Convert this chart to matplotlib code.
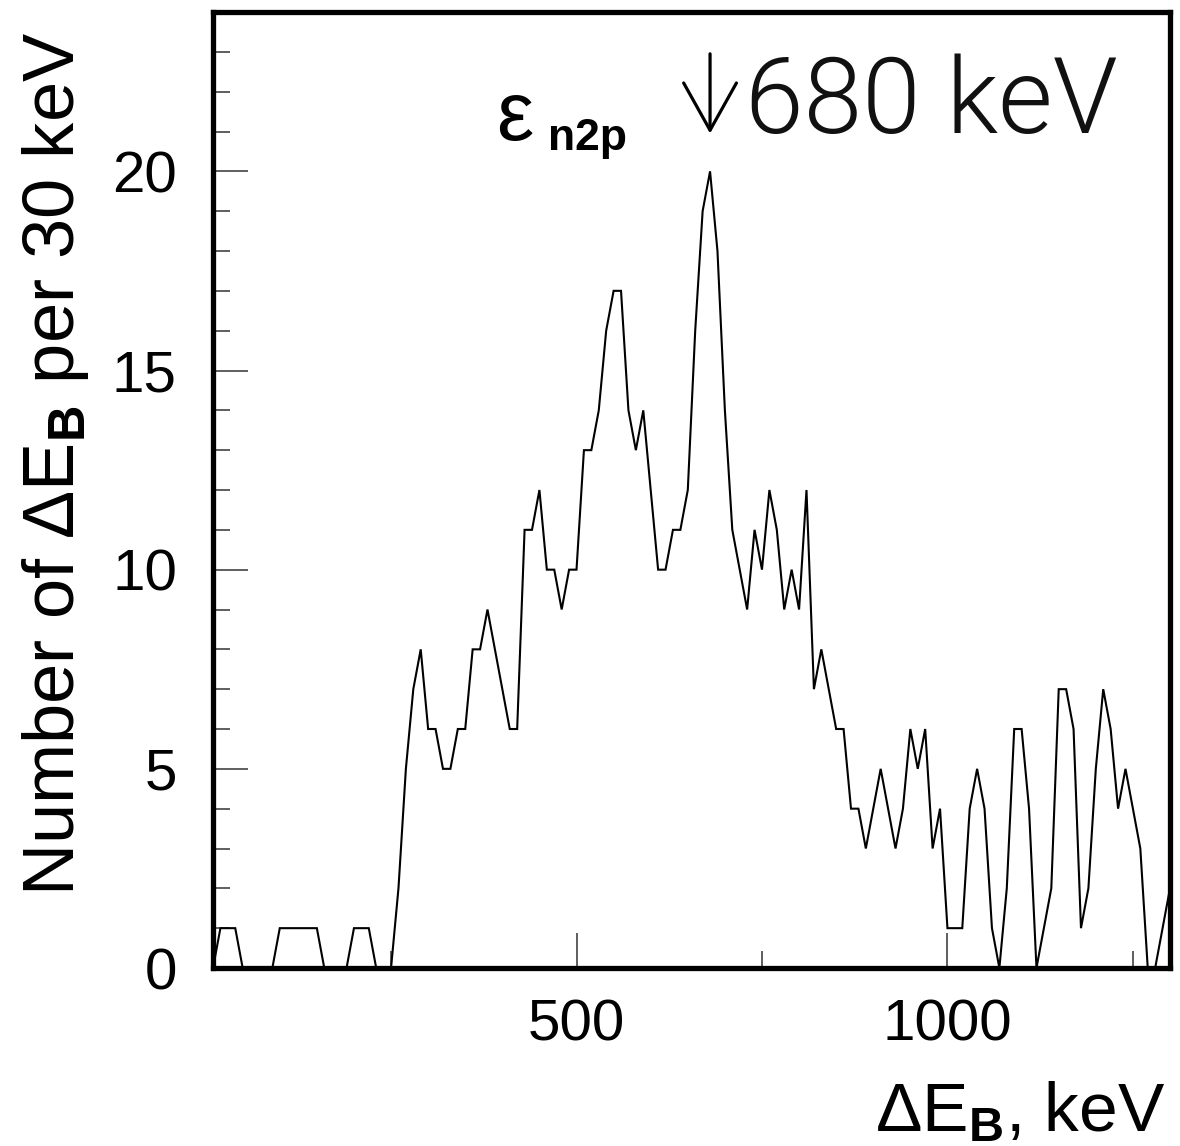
import numpy as np
import matplotlib
matplotlib.use("Agg")
import matplotlib.pyplot as plt
from matplotlib import font_manager as fm

plt.rcParams['font.family'] = ['Liberation Sans', 'DejaVu Sans']
plt.rcParams['mathtext.fontset'] = 'custom'
plt.rcParams['mathtext.rm'] = 'Liberation Sans'
plt.rcParams['mathtext.it'] = 'Liberation Sans:italic'
plt.rcParams['mathtext.bf'] = 'Liberation Sans:bold'

# Energy points (keV), 10 keV steps, sliding 30 keV window counts
energies = np.arange(10, 1301, 10)
counts = [
    0, 1, 1, 1, 0, 0, 0, 0, 0, 1,
    1, 1, 1, 1, 1, 0, 0, 0, 0, 1,
    1, 1, 0, 0, 0, 2, 5, 7, 8, 6,
    6, 5, 5, 6, 6, 8, 8, 9, 8, 7,
    6, 6, 11, 11, 12, 10, 10, 9, 10, 10,
    13, 13, 14, 16, 17, 17, 14, 13, 14, 12,
    10, 10, 11, 11, 12, 16, 19, 20, 18, 14,
    11, 10, 9, 11, 10, 12, 11, 9, 10, 9,
    12, 7, 8, 7, 6, 6, 4, 4, 3, 4,
    5, 4, 3, 4, 6, 5, 6, 3, 4, 1,
    1, 1, 4, 5, 4, 1, 0, 2, 6, 6,
    4, 0, 1, 2, 7, 7, 6, 1, 2, 5,
    7, 6, 4, 5, 4, 3, 0, 0, 1, 2,
]

x_major = [500, 1000]
x_minor = [250, 750, 1250]
y_major = [0, 5, 10, 15, 20]
y_minor = list(range(0, 24))
peak_energy = 680

fig = plt.figure(figsize=(11.8, 11.46), dpi=100)
ax = fig.add_axes([213/1180, 1-968/1146, (1170-213)/1180, (968-12)/1146])

ax.plot(energies, counts, color='black', lw=1.5, solid_joinstyle='miter')

ax.set_xlim(10, 1300)
ax.set_ylim(0, 24)

ax.set_xticks(x_major)
ax.set_xticks(x_minor, minor=True)
ax.set_yticks(y_major)
ax.set_yticks(y_minor, minor=True)
ax.set_xticklabels([str(v) for v in x_major])
ax.set_yticklabels([str(v) for v in y_major])

ax.tick_params(axis='both', which='major', direction='in', length=25, width=1.1,
               labelsize=42, color='#333333')
ax.tick_params(axis='both', which='minor', direction='in', length=12, width=1.1,
               color='#333333')
ax.tick_params(axis='x', which='major', pad=22)
ax.tick_params(axis='y', which='major', pad=26)
ax.tick_params(top=False, right=False, which='both')

for s in ax.spines.values():
    s.set_linewidth(3.8)
    s.set_color('black')

ax.text(-0.165, 0.527, r'Number of $\Delta$E$_{\mathbf{B}}$ per 30 keV', rotation=90,
        transform=ax.transAxes, fontsize=52, ha='center', va='center')
ax.text(0.995, -0.118, r'$\Delta$E$_{\mathbf{B}}$, keV', transform=ax.transAxes,
        fontsize=50, ha='right', va='top')

# annotation
ax.text(0.296, 0.866, 'ε', transform=ax.transAxes, fontsize=60, ha='left', va='baseline')
ax.text(0.350, 0.856, 'n2p', transform=ax.transAxes, fontsize=32, fontweight='bold',
        ha='left', va='baseline')
ax.annotate('', xy=(peak_energy, 20.95), xytext=(peak_energy, 22.95),
            arrowprops=dict(arrowstyle='->,head_length=1.7,head_width=0.95', lw=2.3,
                            color='black', mutation_scale=20, shrinkA=0, shrinkB=0))

light = fm.FontProperties(family=['Roboto', 'Liberation Sans'], weight=300, size=76)
ax.text(0.556, 0.873, '680 keV', transform=ax.transAxes, fontproperties=light,
        ha='left', va='baseline', color='#111111')

fig.savefig('out.png', dpi=100)
